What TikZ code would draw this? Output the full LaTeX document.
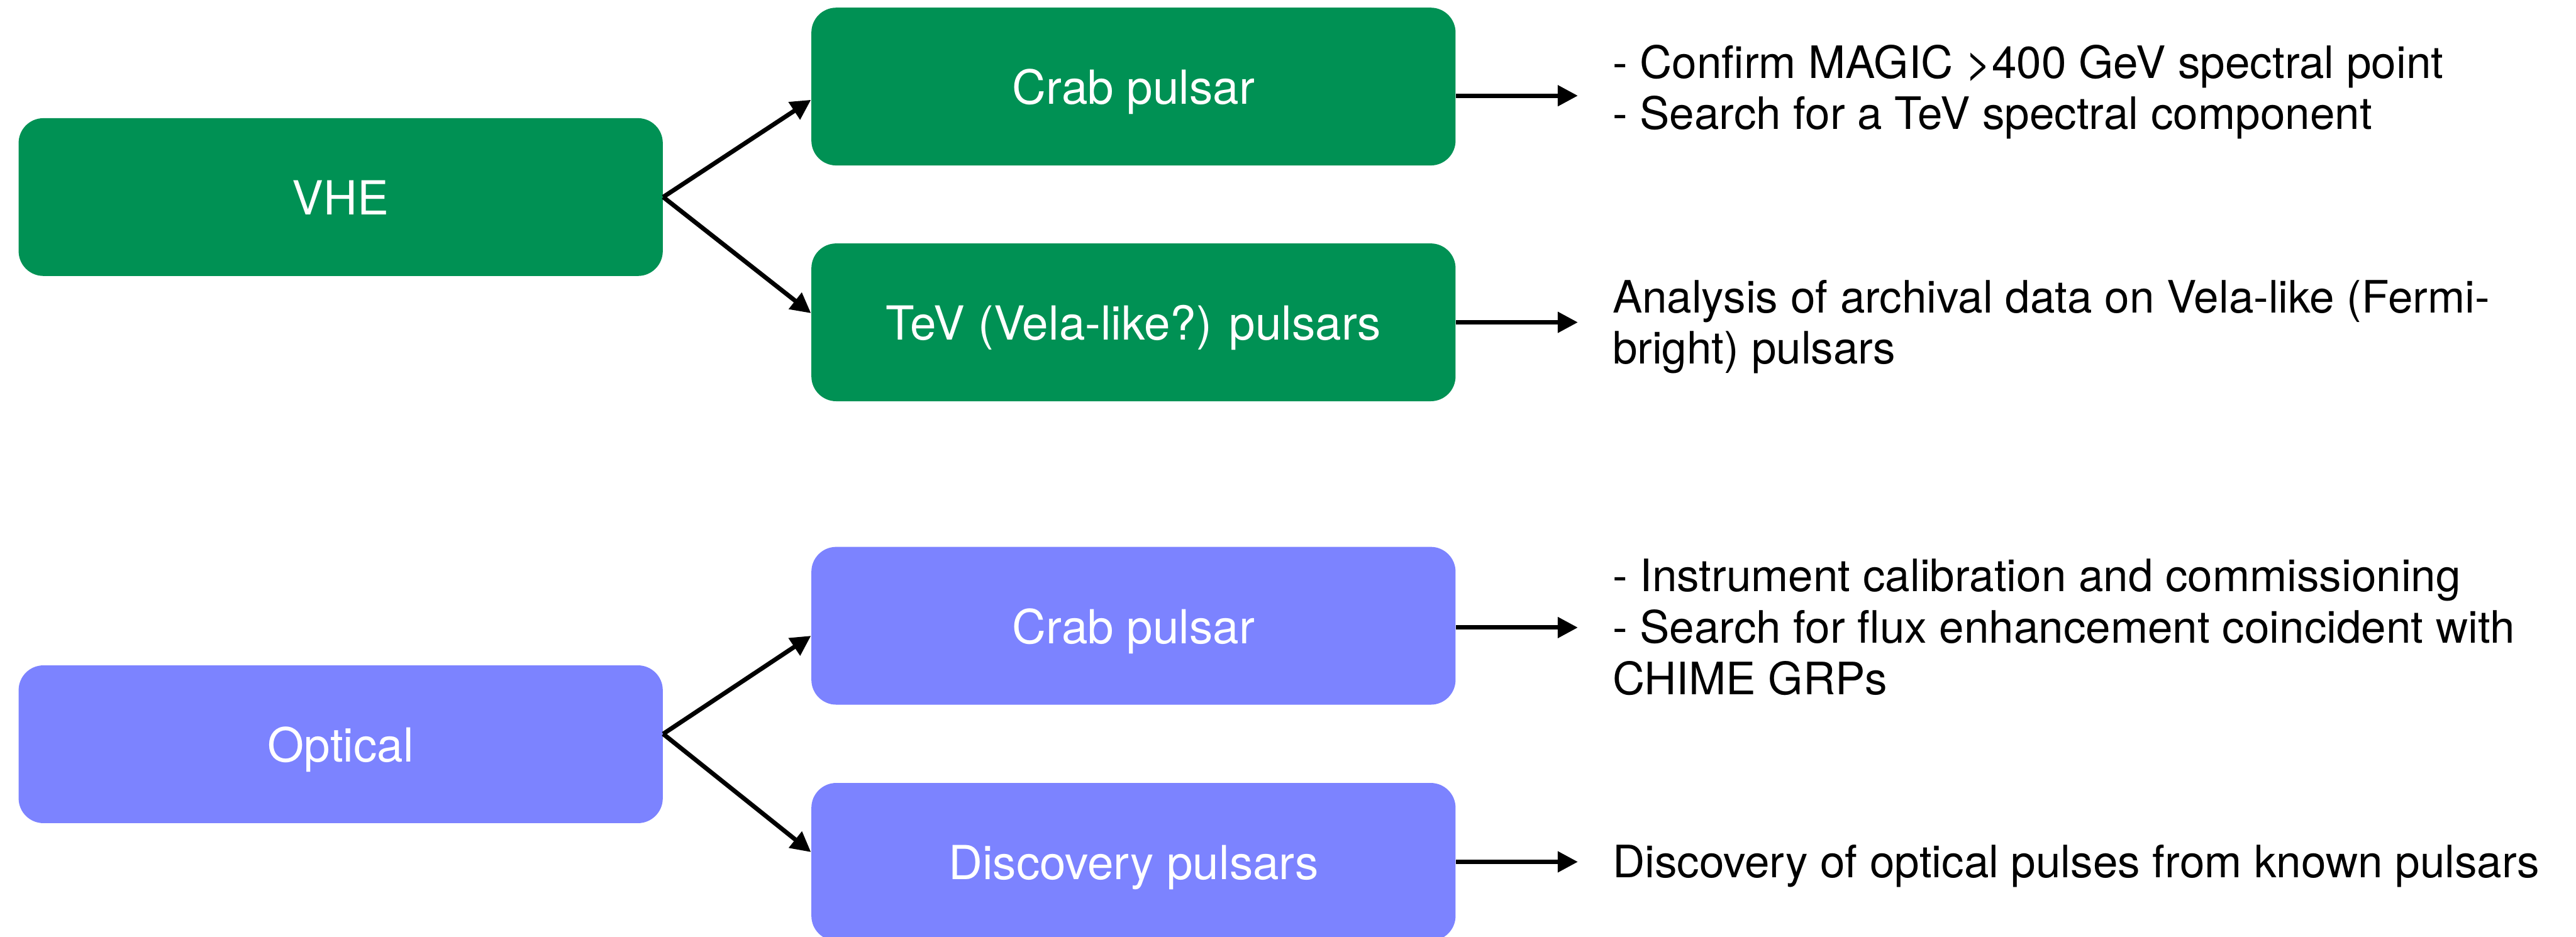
\documentclass[tikz,border=0pt]{standalone}
\usepackage{fontspec}
\setmainfont{TeX Gyre Heros}
\usepackage{tikz}
\usetikzlibrary{calc,positioning}
\usetikzlibrary{arrows.meta}
\tikzset{>={Triangle[width=3.4mm,length=3.4mm]}}
\definecolor{vhegreen}{RGB}{0,145,84}
\definecolor{optblue}{RGB}{124,131,255}

\begin{document}
\begin{tikzpicture}
      \tikzstyle{bnode} = [rectangle, rounded corners = 4.2mm, minimum width = 10.9cm, minimum height = 2.67cm, inner sep = 0pt, text=white, font=\fontsize{22.6}{27}\selectfont, text height = 17pt, text depth = 0pt]
      \tikzstyle{gnode} = [bnode, fill=vhegreen]
      \tikzstyle{pnode} = [bnode, fill=optblue]
      % base of a multi-line node is its last line
      \tikzstyle{tnode} = [anchor=base west, inner sep = 0pt, align=left, font=\fontsize{21.5}{24.7}\selectfont]
      \tikzstyle{arr} = [->, line width = 0.75mm]

      \useasboundingbox (0,0) rectangle (43.59,15.85);

      \node[gnode] (vhe) at (5.765,12.515) {VHE};
      \node[gnode] (crabv) at (19.18,14.385) {Crab pulsar};
      \node[gnode] (tev) at (19.18,10.395) {TeV (Vela-like?) pulsars};

      \node[pnode] (opt) at (5.765,3.255) {Optical};
      \node[pnode] (crabo) at (19.18,5.26) {Crab pulsar};
      \node[pnode] (disc) at (19.18,1.265) {Discovery pulsars};

      \node[tnode] (dcv) at (27.28,13.66) {- Confirm MAGIC >400 GeV spectral point\\- Search for a TeV spectral component};
      \node[tnode] (dtev) at (27.28,9.69) {Analysis of archival data on Vela-like (Fermi-\\bright) pulsars};
      \node[tnode] (dco) at (27.28,4.10) {- Instrument calibration and commissioning\\- Search for flux enhancement coincident with\\CHIME GRPs};
      \node[tnode] (ddisc) at (27.28,1.00) {Discovery of optical pulses from known pulsars};

      \draw[arr] (vhe.east) to ([yshift=-2.25mm]crabv.west);
      \draw[arr] (vhe.east) to ([yshift=1.55mm]tev.west);
      \draw[arr] ([yshift=1.75mm]opt.east) to ([yshift=-1.7mm]crabo.west);
      \draw[arr] ([yshift=1.75mm]opt.east) to ([yshift=1.65mm]disc.west);

      \coordinate (cvout) at ([yshift=-1.55mm]crabv.east);
      \coordinate (tevout) at (tev.east);
      \coordinate (coout) at ([yshift=-0.3mm]crabo.east);
      \coordinate (discout) at (disc.east);

      \draw[arr, shorten >= 5.8mm] (cvout) to (cvout -| dcv.west);
      \draw[arr, shorten >= 5.8mm] (tevout) to (tevout -| dtev.west);
      \draw[arr, shorten >= 5.8mm] (coout) to (coout -| dco.west);
      \draw[arr, shorten >= 5.8mm] (discout) to (discout -| ddisc.west);
    \end{tikzpicture}
\end{document}
